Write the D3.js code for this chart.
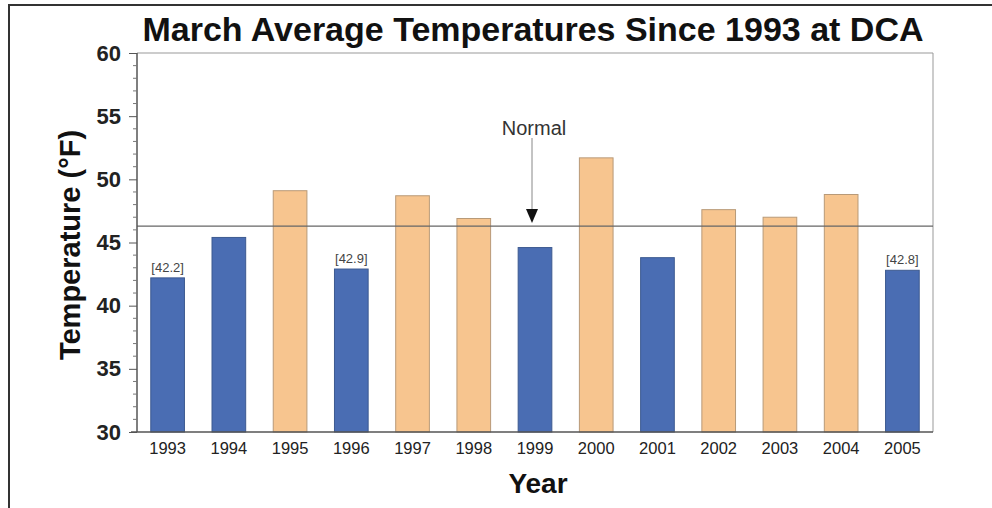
<!DOCTYPE html>
<html>
<head>
<meta charset="utf-8">
<script src="https://cdn.jsdelivr.net/npm/d3@7/dist/d3.min.js"></script>
<style>
  html, body { margin: 0; padding: 0; background: #fff; }
  svg { display: block; font-family: "Liberation Sans", Arial, Helvetica, sans-serif; }
</style>
</head>
<body>
<svg id="chart" width="992" height="508"></svg>
<script>
const years = ["1993","1994","1995","1996","1997","1998","1999","2000","2001","2002","2003","2004","2005"];
const temps = [42.2, 45.4, 49.1, 42.9, 48.7, 46.9, 44.6, 51.7, 43.8, 47.6, 47.0, 48.8, 42.8];
const labeledYears = ["1993","1996","2005"];
const normalTemp = 46.3;
const normalYear = "1999";
const yTicks = [30, 35, 40, 45, 50, 55, 60];
const titleText = "March Average Temperatures Since 1993 at DCA";
const yLabel = "Temperature (\u00B0F)";
const xLabel = "Year";
const normalLabel = "Normal";

const svg = d3.select("#chart");
const W = 992, H = 508;
const m = { left: 137, right: 933, top: 53, bottom: 432 };

const x = d3.scaleBand().domain(years).range([m.left, m.right]).paddingInner(0.45).paddingOuter(0.225);
const y = d3.scaleLinear().domain([30, 60]).range([m.bottom, m.top]);

// outer frame (top + left)
svg.append("path")
  .attr("d", `M9,508 L9,5 L992,5`)
  .attr("fill", "none").attr("stroke", "#333").attr("stroke-width", 2);

// plot box top + right
svg.append("path")
  .attr("d", `M${m.left},${m.top} L${m.right},${m.top} L${m.right},${m.bottom}`)
  .attr("fill", "none").attr("stroke", "#999").attr("stroke-width", 1);

// bars
const colorFor = v => v >= normalTemp ? "#f7c58f" : "#4a6db3";
const strokeFor = v => v >= normalTemp ? "#b89a78" : "#3d5a90";
svg.append("g").selectAll("rect").data(years).join("rect")
  .attr("x", d => x(d))
  .attr("width", x.bandwidth())
  .attr("y", (d, i) => y(temps[i]))
  .attr("height", (d, i) => y(30) - y(temps[i]))
  .attr("fill", (d, i) => colorFor(temps[i]))
  .attr("stroke", (d, i) => strokeFor(temps[i]))
  .attr("stroke-width", 1);

// value labels
svg.append("g").selectAll("text").data(years.filter(d => labeledYears.includes(d))).join("text")
  .attr("x", d => x(d) + x.bandwidth() / 2)
  .attr("y", d => y(temps[years.indexOf(d)]) - 6)
  .attr("text-anchor", "middle")
  .attr("font-size", 13)
  .attr("fill", "#444")
  .text(d => "[" + temps[years.indexOf(d)].toFixed(1) + "]");

// normal line
svg.append("line")
  .attr("x1", m.left).attr("x2", m.right)
  .attr("y1", y(normalTemp)).attr("y2", y(normalTemp))
  .attr("stroke", "#666").attr("stroke-width", 1.2);

// normal annotation
const ax = x(normalYear) + x.bandwidth() / 2 - 3;
const tipY = y(normalTemp) - 3;
svg.append("line")
  .attr("x1", ax).attr("x2", ax)
  .attr("y1", 138).attr("y2", tipY - 12)
  .attr("stroke", "#888").attr("stroke-width", 1);
svg.append("path")
  .attr("d", `M${ax - 6},${tipY - 14} L${ax + 6},${tipY - 14} L${ax},${tipY} Z`)
  .attr("fill", "#111");
svg.append("text")
  .attr("x", ax + 2).attr("y", 135)
  .attr("text-anchor", "middle")
  .attr("font-size", 20)
  .attr("fill", "#333")
  .text(normalLabel);

// y axis
const yAxis = d3.axisLeft(y).tickValues(yTicks).tickSize(8).tickFormat(d3.format("d"));
const gy = svg.append("g").attr("transform", `translate(${m.left},0)`).call(yAxis);
gy.select(".domain").attr("stroke", "#555").attr("stroke-width", 1.5).attr("d", `M0,${m.top}V${m.bottom}`);
gy.selectAll(".tick line").attr("stroke", "#555");
gy.selectAll(".tick text")
  .attr("x", -16)
  .attr("font-size", 22).attr("font-weight", "bold").attr("fill", "#222")
  .attr("font-family", "'Liberation Sans', Arial, sans-serif");

// minor ticks
const minor = d3.range(30, 61, 1).filter(v => v % 5 !== 0);
svg.append("g").selectAll("line").data(minor).join("line")
  .attr("x1", m.left - 4).attr("x2", m.left)
  .attr("y1", d => y(d)).attr("y2", d => y(d))
  .attr("stroke", "#777").attr("stroke-width", 1);

// x axis
const xAxis = d3.axisBottom(x).tickSize(0).tickPadding(10);
const gx = svg.append("g").attr("transform", `translate(0,${m.bottom})`).call(xAxis);
gx.select(".domain").attr("stroke", "#555").attr("stroke-width", 1.5).attr("d", `M${m.left - 6},0H${m.right}`);
gx.selectAll(".tick text")
  .attr("font-size", 16.5).attr("fill", "#222")
  .attr("font-family", "'Liberation Sans', Arial, sans-serif");

// title
svg.append("text")
  .attr("x", 533).attr("y", 41)
  .attr("text-anchor", "middle")
  .attr("font-size", 34).attr("font-weight", "bold").attr("fill", "#111")
  .text(titleText);

// y label
svg.append("text")
  .attr("transform", `translate(80,245) rotate(-90)`)
  .attr("text-anchor", "middle")
  .attr("font-size", 29).attr("font-weight", "bold").attr("fill", "#111")
  .text(yLabel);

// x label
svg.append("text")
  .attr("x", 538).attr("y", 493)
  .attr("text-anchor", "middle")
  .attr("font-size", 28).attr("font-weight", "bold").attr("fill", "#111")
  .text(xLabel);
</script>
</body>
</html>
